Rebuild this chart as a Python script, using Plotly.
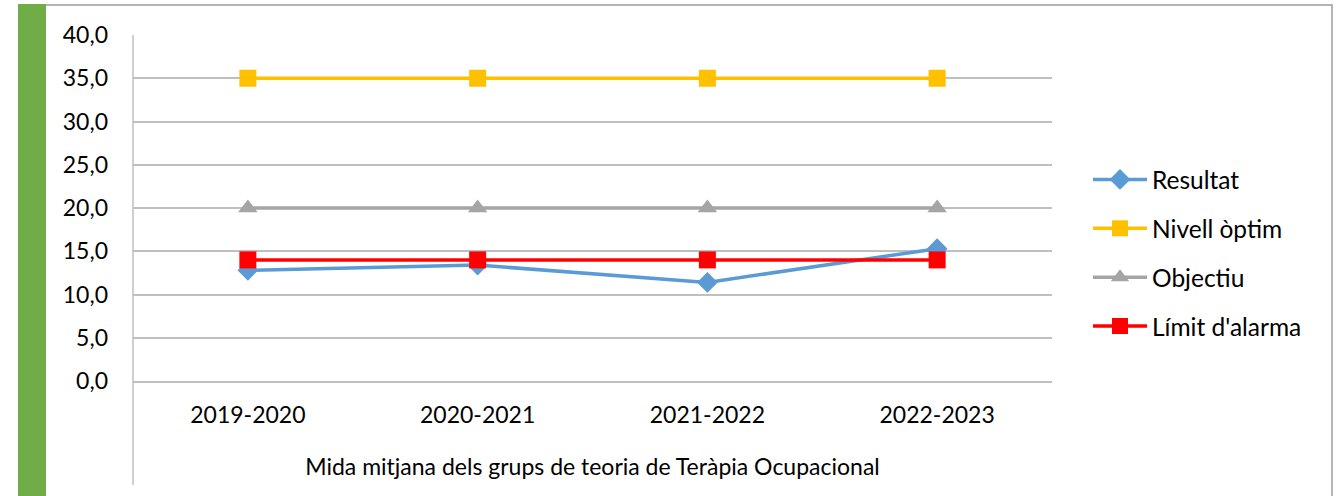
import plotly.graph_objects as go

# data
cursos = ["2019-2020", "2020-2021", "2021-2022", "2022-2023"]
resultat = [12.8, 13.4, 11.4, 15.3]
nivell_optim = [35.0, 35.0, 35.0, 35.0]
objectiu = [20.0, 20.0, 20.0, 20.0]
limit_alarma = [14.0, 14.0, 14.0, 14.0]

FONT = "Lato"
GRID = "#bfbfbf"

# page is 1338x496, body margin removed below
FW, FH = 1338, 496
L, R, T, B = 133, 1052, 35, 381
W, H = R - L, B - T


def px_x(x):
    return (x - L) / W


def px_y(y):
    return (B - y) / H


series = [
    ("Resultat", resultat, "#5b9bd5", "diamond", 16),
    ("Nivell òptim", nivell_optim, "#ffc000", "square", 17),
    ("Objectiu", objectiu, "#a5a5a5", "triangle-up", 17),
    ("Límit d'alarma", limit_alarma, "#ff0000", "square", 17),
]

fig = go.Figure()
for name, vals, col, sym, size in series:
    fig.add_trace(go.Scatter(
        x=cursos, y=vals, name=name, legendgroup=name,
        mode="lines+markers",
        line=dict(color=col, width=3.5),
        marker=dict(symbol=sym, size=size, color=col),
    ))

shapes = [
    # outer chart border
    dict(type="rect", xref="paper", yref="paper",
         x0=px_x(44), x1=px_x(1332), y0=px_y(520), y1=px_y(5),
         line=dict(color="#b4b4b4", width=2), fillcolor="rgba(0,0,0,0)", layer="below"),
    # green side bar
    dict(type="rect", xref="paper", yref="paper",
         x0=px_x(18), x1=px_x(46), y0=px_y(520), y1=px_y(4),
         line=dict(width=0), fillcolor="#70ad47"),
    # category axis divider down to the title area
    dict(type="line", xref="paper", yref="paper",
         x0=0, x1=0, y0=px_y(485), y1=1,
         line=dict(color=GRID, width=1.5)),
]

fig.update_layout(
    width=FW, height=FH,
    margin=dict(l=L, r=FW - R, t=T, b=FH - B),
    paper_bgcolor="white", plot_bgcolor="white",
    separators=",.",
    font=dict(family=FONT, size=23, color="#000000"),
    shapes=shapes,
    showlegend=True,
    legend=dict(x=px_x(1088), y=px_y(157), xanchor="left", yanchor="top",
                tracegroupgap=14, itemwidth=54, font=dict(size=24.5),
                bgcolor="rgba(0,0,0,0)"),
    xaxis=dict(
        range=[-0.5, 3.5], showgrid=False, showline=True, linecolor=GRID, linewidth=1.5,
        ticks="", ticklabelstandoff=13,
        title=dict(text="Mida mitjana dels grups de teoria de Teràpia Ocupacional",
                   standoff=32, font=dict(size=23)),
    ),
    yaxis=dict(
        range=[0, 40], dtick=5, tickformat=".1f", showgrid=True, gridcolor=GRID,
        gridwidth=1.5, zeroline=False, showline=False, ticks="", ticklabelstandoff=24,
    ),
)

fig.write_html("out.html", config={"displayModeBar": False},
               post_script="document.body.style.margin='0';")
